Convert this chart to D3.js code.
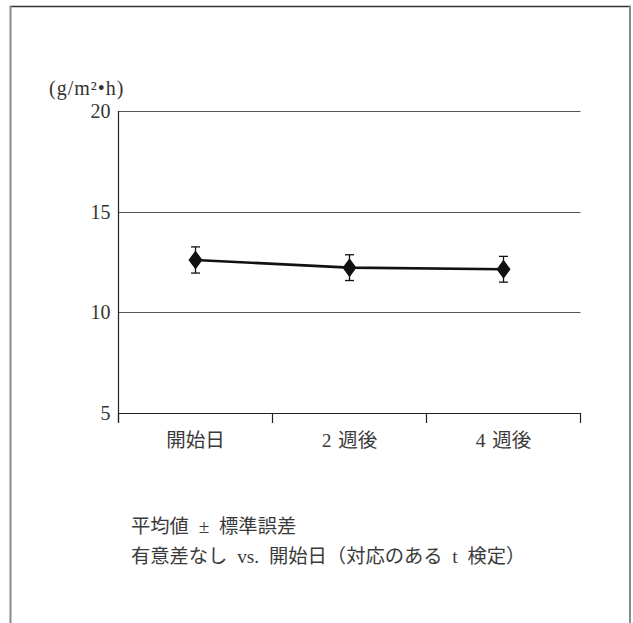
<!DOCTYPE html>
<html>
<head>
<meta charset="utf-8">
<script src="https://cdn.jsdelivr.net/npm/d3@7"></script>
<style>
  html, body { margin: 0; padding: 0; background: #fff; }
  svg { display: block; }
  text { font-family: "Liberation Serif", "DejaVu Serif", "Noto Sans CJK JP", serif; fill: #333; }
  .jp { font-family: "Liberation Serif", "Noto Sans CJK JP", sans-serif; fill: #3a3a3a; }
</style>
</head>
<body>
<svg id="chart" width="633" height="623"></svg>
<script>
// Time points, mean values and standard errors (g/m²·h)
const categories = ["開始日", "2 週後", "4 週後"];
const means = [12.6, 12.22, 12.14];
const stdErrors = [0.65, 0.64, 0.64];
const yTicks = [5, 10, 15, 20];
const unitLabel = "(g/m²•h)";
const notes = ["平均値 ± 標準誤差", "有意差なし vs. 開始日（対応のある t 検定）"];

const svg = d3.select("#chart");
const margin = { left: 118.5, right: 580.5, top: 111, bottom: 413 };

// Outer frame (open at the bottom)
svg.append("line").attr("x1", 10).attr("x2", 631).attr("y1", 6.5).attr("y2", 6.5)
  .attr("stroke", "#333").attr("stroke-width", 1.5);
svg.append("g").selectAll("line").data([10.5, 630]).join("line")
  .attr("x1", d => d).attr("x2", d => d).attr("y1", 6).attr("y2", 623)
  .attr("stroke", "#888").attr("stroke-width", 2);

const x = d3.scaleBand().domain(categories).range([margin.left, margin.right]);
const y = d3.scaleLinear().domain([5, 20]).range([margin.bottom, margin.top]);

// Horizontal gridlines
svg.append("g").selectAll("line").data(yTicks.filter(t => t !== 5)).join("line")
  .attr("x1", margin.left).attr("x2", margin.right)
  .attr("y1", d => Math.round(y(d)) + 0.5).attr("y2", d => Math.round(y(d)) + 0.5)
  .attr("stroke", "#555").attr("stroke-width", 1);

// Y axis
const yAxis = svg.append("g").attr("transform", `translate(${margin.left},0)`)
  .call(d3.axisLeft(y).tickValues(yTicks).tickSize(0).tickPadding(8));
yAxis.select(".domain").remove();
yAxis.attr("font-size", null).attr("font-family", null);
yAxis.selectAll("text")
  .style("font-size", "20px").style("fill", "#333")
  .style("font-family", "'Liberation Serif', serif");
svg.append("line")
  .attr("x1", margin.left).attr("x2", margin.left)
  .attr("y1", margin.top).attr("y2", margin.bottom + 10)
  .attr("stroke", "#222").attr("stroke-width", 1.2);

// X axis with boundary ticks between categories
svg.append("line")
  .attr("x1", margin.left).attr("x2", margin.right)
  .attr("y1", margin.bottom + 0.5).attr("y2", margin.bottom + 0.5)
  .attr("stroke", "#222").attr("stroke-width", 1.2);
const bounds = categories.map(c => x(c)).concat([x(categories[categories.length - 1]) + x.bandwidth()]);
svg.append("g").selectAll("line").data(bounds).join("line")
  .attr("x1", d => d).attr("x2", d => d)
  .attr("y1", margin.bottom).attr("y2", margin.bottom + 10)
  .attr("stroke", "#222").attr("stroke-width", 1.2);
svg.append("g").selectAll("text").data(categories).join("text")
  .attr("class", "jp")
  .attr("x", d => x(d) + x.bandwidth() / 2)
  .attr("y", 447)
  .attr("text-anchor", "middle")
  .style("font-size", "19.5px")
  .style("word-spacing", "2px")
  .text(d => d);

// Unit label
svg.append("text").attr("x", 49).attr("y", 95)
  .style("font-size", "20px").style("letter-spacing", "1px")
  .text(unitLabel);

const cx = i => x(categories[i]) + x.bandwidth() / 2;
const pts = means.map((m, i) => ({ m, e: stdErrors[i], i }));

// Error bars
const eb = svg.append("g").attr("stroke", "#111").attr("stroke-width", 1.3);
pts.forEach(p => {
  const px = cx(p.i);
  eb.append("line").attr("x1", px).attr("x2", px).attr("y1", y(p.m + p.e)).attr("y2", y(p.m - p.e));
  [p.m + p.e, p.m - p.e].forEach(v => {
    eb.append("line").attr("x1", px - 4.5).attr("x2", px + 4.5).attr("y1", y(v)).attr("y2", y(v));
  });
});

// Mean line
svg.append("path")
  .datum(pts)
  .attr("d", d3.line().x(p => cx(p.i)).y(p => y(p.m)))
  .attr("fill", "none").attr("stroke", "#111").attr("stroke-width", 2.6);

// Diamond markers
svg.append("g").selectAll("path").data(pts).join("path")
  .attr("transform", p => `translate(${cx(p.i)},${y(p.m)})`)
  .attr("d", "M0,-9.5 L7,0 L0,9.5 L-7,0 Z")
  .attr("fill", "#111");

// Footnotes
svg.append("g").selectAll("text").data(notes).join("text")
  .attr("class", "jp")
  .attr("x", 131).attr("y", (d, i) => 533 + i * 30)
  .style("font-size", "19.3px")
  .style("word-spacing", "5px")
  .text(d => d);
</script>
</body>
</html>
